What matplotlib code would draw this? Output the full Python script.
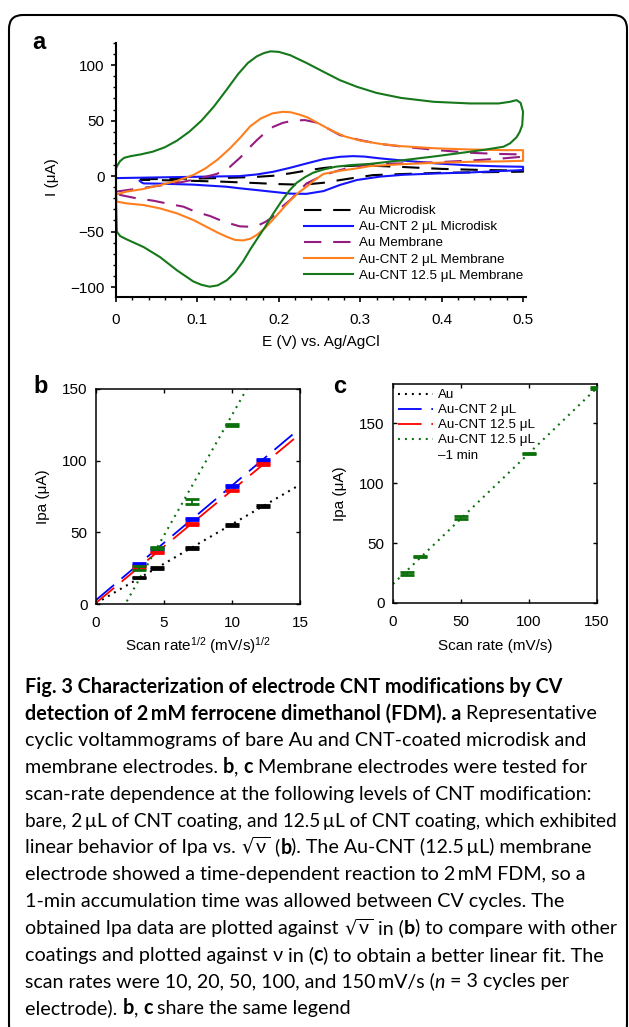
import numpy as np
import matplotlib
matplotlib.use("Agg")
import matplotlib.pyplot as plt
from matplotlib.patches import FancyBboxPatch
from matplotlib.transforms import IdentityTransform
from matplotlib.ticker import MultipleLocator, FixedLocator

plt.rcParams['font.family'] = ['Liberation Sans', 'DejaVu Sans']
plt.rcParams['mathtext.default'] = 'regular'
plt.rcParams['lines.scale_dashes'] = False

# ---------------- panel a: cyclic voltammograms (E in V, I in uA) ----------------
au_md_E = [0.03, 0.06, 0.10, 0.14, 0.17, 0.193, 0.214, 0.234, 0.255, 0.275, 0.296, 0.316, 0.35, 0.40, 0.45, 0.50,
           0.50, 0.45, 0.40, 0.35, 0.316, 0.296, 0.275, 0.255, 0.235, 0.220, 0.20, 0.17, 0.13, 0.09, 0.05, 0.03]
au_md_I = [-2.8, -2.6, -2.2, -1.5, -0.8, 0.3, 2.5, 5.0, 7.3, 8.8, 9.5, 9.3, 8.3, 6.5, 5.5, 5.0,
           4.0, 3.5, 3.0, 1.8, 0.9, -1.2, -3.6, -6.0, -7.4, -7.6, -7.2, -6.2, -5.0, -4.2, -3.6, -3.2]

cnt2_md_E = [0.0, 0.05, 0.10, 0.152, 0.173, 0.193, 0.214, 0.234, 0.255, 0.275, 0.291, 0.305, 0.324, 0.353, 0.394, 0.435, 0.470, 0.500,
             0.500, 0.470, 0.435, 0.394, 0.353, 0.324, 0.296, 0.275, 0.255, 0.234, 0.214, 0.193, 0.173, 0.152, 0.136, 0.095, 0.054, 0.034, 0.031, 0.029]
cnt2_md_I = [-1.8, -1.2, -0.6, 0.0, 1.5, 3.9, 7.5, 11.4, 15.3, 17.4, 18.0, 17.6, 16.0, 14.0, 11.4, 9.6, 8.8, 8.4,
             5.4, 4.5, 3.3, 2.4, 1.2, -0.5, -3.5, -8.0, -13.5, -16.0, -15.8, -14.2, -12.6, -11.0, -9.6, -7.7, -6.8, -6.6, -5.5, -4.2]

au_mem_E = [0.0, 0.02, 0.05, 0.08, 0.100, 0.124, 0.140, 0.153, 0.163, 0.173, 0.183, 0.193, 0.205, 0.217, 0.232, 0.245, 0.255, 0.275, 0.300, 0.324, 0.353, 0.394, 0.435, 0.470, 0.500,
            0.500, 0.476, 0.435, 0.394, 0.353, 0.324, 0.296, 0.275, 0.255, 0.234, 0.214, 0.200, 0.193, 0.183, 0.173, 0.163, 0.152, 0.132, 0.1155, 0.097, 0.083, 0.062, 0.046, 0.025, 0.005, 0.0]
au_mem_I = [-14, -12, -9, -5.5, -2.5, 2, 8.4, 17, 25, 32.4, 39, 44.4, 48, 50, 50.5, 48.5, 45, 37, 32.4, 29, 26.5, 23.5, 21, 20, 19.5,
            17.5, 16, 14, 12.5, 11.5, 11, 9, 5.4, 0.9, -6.6, -21.6, -30, -36.7, -41.5, -45, -45.6, -45.3, -41, -36, -32, -27.6, -24.6, -22.2, -20, -17, -14]

cnt2_mem_E = [0.0, 0.013, 0.033, 0.054, 0.075, 0.095, 0.110, 0.125, 0.140, 0.153, 0.165, 0.178, 0.192, 0.205, 0.215, 0.225, 0.235, 0.250, 0.265, 0.280, 0.300, 0.325, 0.350, 0.394, 0.435, 0.476, 0.500,
              0.500, 0.476, 0.435, 0.394, 0.353, 0.312, 0.296, 0.275, 0.255, 0.245, 0.234, 0.224, 0.214, 0.204, 0.193, 0.183, 0.173, 0.165, 0.156, 0.146, 0.136, 0.125, 0.115, 0.095, 0.075, 0.054, 0.034, 0.013, 0.001, 0.0]
cnt2_mem_I = [-16.5, -14, -11.7, -8.1, -4.2, 1, 7, 15, 25, 35, 45, 52, 56.5, 58, 57.5, 55.5, 53, 47, 41, 36, 32, 29, 27, 25, 24, 23.4, 23.4,
              13.8, 13.3, 12.9, 12, 10.8, 9, 7, 4.8, 2, -3, -9.6, -15, -22, -30, -39, -47, -53, -56.5, -58, -57.5, -54.7, -51, -47.2, -39.6, -33.6, -29.1, -26.1, -24.6, -23, -16.5]

cnt125_mem_E = [0.0, 0.002, 0.005, 0.010, 0.018, 0.030, 0.045, 0.060, 0.075, 0.090, 0.105, 0.120, 0.135, 0.150, 0.162, 0.173, 0.182, 0.190, 0.200, 0.214, 0.234, 0.255, 0.275, 0.296, 0.320, 0.350, 0.390, 0.435, 0.470, 0.484, 0.492, 0.497, 0.500,
                0.499, 0.496, 0.492, 0.484, 0.476, 0.455, 0.435, 0.394, 0.353, 0.312, 0.290, 0.270, 0.255, 0.242, 0.232, 0.222, 0.213, 0.203, 0.193, 0.183, 0.173, 0.165, 0.156, 0.146, 0.136, 0.125, 0.115, 0.105, 0.095, 0.075, 0.054, 0.034, 0.013, 0.005, 0.001, 0.0, 0.0]
cnt125_mem_I = [7, 10, 13.5, 16.5, 18, 19.5, 22, 26, 32, 40, 50, 62.5, 77, 92, 102, 108, 111, 112.5, 112, 109, 102, 94, 86.5, 80.5, 75, 70.5, 67, 65.5, 65.5, 67, 68.5, 66, 58,
                46, 40, 35, 29.5, 26.5, 24, 22, 18, 14.4, 11, 10, 8.5, 6, 3, -1, -6, -13, -23, -34, -46, -57, -66, -77, -87, -94, -98.5, -99.7, -98, -95, -85, -73, -64, -57, -54, -50, -20, 7]

cv_labels = ['Au Microdisk', 'Au-CNT 2 \u03bcL Microdisk', 'Au Membrane',
             'Au-CNT 2 \u03bcL Membrane', 'Au-CNT 12.5 \u03bcL Membrane']
cv_colors = ['#000000', '#1414FF', '#941C80', '#FF7F1E', '#16781A']

# ---------------- panels b, c: peak current vs scan rate ----------------
scan_rate = np.array([10, 20, 50, 100, 150])          # mV/s
ipa_au = [18.5, 25, 39, 55.3, 68.6]
ipa_au_err = [0.6, 0.5, 0.6, 0.6, 0.6]
ipa_cnt2 = [28, 38.5, 59.3, 82.5, 100.7]
ipa_cnt2_err = [0.8, 0.6, 0.8, 0.6, 0.8]
ipa_cnt125 = [26, 36, 55.8, 79, 97.5]
ipa_cnt125_err = [0.6, 0.5, 0.6, 0.5, 0.6]
ipa_cnt125_1min = [25, 39, 71.5, 125, 179.5]
ipa_cnt125_1min_err = [1.2, 0.6, 1.5, 0.6, 0.6]

bc_labels = ['Au', 'Au-CNT 2 \u03bcL', 'Au-CNT 12.5 \u03bcL', 'Au-CNT 12.5 \u03bcL']
bc_colors = ['#000000', '#0000FF', '#FF0000', '#0A700A']

# ---------------- figure ----------------
W, H, DPI = 629, 1027, 100
fig = plt.figure(figsize=(W / DPI, H / DPI), dpi=DPI)


def box(l, t, r, b):
    return [l / W, 1 - b / H, (r - l) / W, (b - t) / H]


# outer rounded frame (pixel coordinates)
frame = FancyBboxPatch((9, -12), 618, 1012 + 12, boxstyle='round,pad=0,rounding_size=14',
                       transform=IdentityTransform(), fill=False, ec='black', lw=1.5)
fig.add_artist(frame)

# ---------- panel a ----------
axA = fig.add_axes(box(116, 43, 526.3, 297))
cv_data = [(au_md_E, au_md_I), (cnt2_md_E, cnt2_md_I), (au_mem_E, au_mem_I),
           (cnt2_mem_E, cnt2_mem_I), (cnt125_mem_E, cnt125_mem_I)]
styles = ['dash', 'solid', 'dash', 'solid', 'solid']
for (E, I), lab, col, st in zip(cv_data, cv_labels, cv_colors, styles):
    ln, = axA.plot(E, I, color=col, lw=1.5, label=lab, clip_on=False, solid_joinstyle='round')
    if st == 'dash':
        ln.set_dashes((12.5, 8.5))
axA.set_xlim(0, 0.504)
axA.set_ylim(-109, 120)
axA.spines[['top', 'right']].set_visible(False)
for s in ['left', 'bottom']:
    axA.spines[s].set_linewidth(1.5)
axA.xaxis.set_major_locator(FixedLocator([0, 0.1, 0.2, 0.3, 0.4, 0.5]))
axA.set_xticklabels(['0', '0.1', '0.2', '0.3', '0.4', '0.5'])
axA.xaxis.set_minor_locator(MultipleLocator(0.02))
axA.yaxis.set_major_locator(MultipleLocator(50))
axA.yaxis.set_minor_locator(MultipleLocator(10))
axA.tick_params(which='major', direction='out', length=3.8, width=1.2, labelsize=11, pad=4.5)
axA.tick_params(axis='x', which='major', pad=7.5)
axA.tick_params(which='minor', direction='out', length=2.3, width=1.0)
axA.set_xlabel('E (V) vs. Ag/AgCl', fontsize=11, va='center')
axA.xaxis.set_label_coords(0.5, (297 - 341.7) / 254)
axA.set_ylabel('I (\u03bcA)', fontsize=11, va='center')
axA.yaxis.set_label_coords((52 - 116) / 410.3, (297 - 177) / 254)
axA.legend(loc='upper left', bbox_to_anchor=((304 - 116) / 410.3, (297 - 205) / 254),
           frameon=False, fontsize=9.6, handlelength=3.7, handletextpad=0.45,
           labelspacing=0.28, borderpad=0, borderaxespad=0)

# ---------- panels b and c ----------
sq = np.sqrt(scan_rate)
series = [(ipa_au, ipa_au_err), (ipa_cnt2, ipa_cnt2_err), (ipa_cnt125, ipa_cnt125_err),
          (ipa_cnt125_1min, ipa_cnt125_1min_err)]
line_styles = [(0, (1.4, 3.6)), (0, (17, 7)), (0, (17, 7)), (0, (1.4, 3.6))]
line_widths = [1.5, 1.3, 1.3, 1.5]

axB = fig.add_axes(box(96, 389, 300, 604))
xfit_b = np.array([0.0, 15.0])
for (y, e), col, ls, lw in zip(series, bc_colors, line_styles, line_widths):
    k, b0 = np.polyfit(sq, y, 1)
    axB.plot(xfit_b, k * xfit_b + b0, color=col, ls=ls, lw=lw, zorder=2)
    axB.errorbar(sq, y, yerr=e, fmt='none', ecolor=col, elinewidth=1.3, capsize=4.7, capthick=2.0, zorder=3)
axB.set_xlim(0, 15)
axB.set_ylim(0, 150)
axB.set_xticks([0, 5, 10, 15])
axB.set_yticks([0, 50, 100, 150])
axB.set_xlabel('Scan rate$^{1/2}$ (mV/s)$^{1/2}$', fontsize=11, va='center')
axB.xaxis.set_label_coords(0.5, (604 - 645.7) / 215)
axB.set_ylabel('Ipa (\u03bcA)', fontsize=11, va='center')
axB.yaxis.set_label_coords((43 - 96) / 204, 0.5)

axC = fig.add_axes(box(393, 384, 597, 603))
xfit_c = np.array([0.0, 150.0])
handles = []
for i, ((y, e), col, ls, lw, lab) in enumerate(zip(series, bc_colors, line_styles, line_widths, bc_labels)):
    if i == 3:
        k, b0 = np.polyfit(scan_rate, y, 1)
        h, = axC.plot(xfit_c, k * xfit_c + b0, color=col, ls=ls, lw=lw, zorder=2)
        axC.errorbar(scan_rate, y, yerr=e, fmt='none', ecolor=col, elinewidth=1.3, capsize=4.7, capthick=2.0, zorder=3)
    else:
        h, = axC.plot([], [], color=col, ls=ls, lw=lw)
    handles.append(h)
axC.set_xlim(0, 150)
axC.set_ylim(0, 183)
axC.set_xticks([0, 50, 100, 150])
axC.set_yticks([0, 50, 100, 150])
axC.set_xlabel('Scan rate (mV/s)', fontsize=11, va='center')
axC.xaxis.set_label_coords(0.5, (603 - 645.7) / 219)
axC.set_ylabel('Ipa (\u03bcA)', fontsize=11, va='center')
axC.yaxis.set_label_coords((340 - 393) / 204, 0.5)
axC.legend(handles, bc_labels, loc='upper left', bbox_to_anchor=((398 - 393) / 204, (603 - 389) / 219),
           frameon=False, fontsize=9.6, handlelength=2.6, handletextpad=0.4,
           labelspacing=0.2, borderpad=0, borderaxespad=0)
fig.text(438 / W, 1 - 456 / H, '\u20131 min', fontsize=9.6, va='center', ha='left')

for ax in (axB, axC):
    for s in ax.spines.values():
        s.set_linewidth(1.1)
    ax.tick_params(direction='in', top=True, right=True, length=3.2, width=1.0, labelsize=11)
    ax.tick_params(axis='x', pad=8.5)
    ax.tick_params(axis='y', pad=6.2)

# panel letters
fig.text(32 / W, 1 - 49.3 / H, 'a', fontsize=17, fontweight='bold', va='baseline', ha='left')
fig.text(33.3 / W, 1 - 393.3 / H, 'b', fontsize=17, fontweight='bold', va='baseline', ha='left')
fig.text(332.7 / W, 1 - 393.3 / H, 'c', fontsize=17, fontweight='bold', va='baseline', ha='left')

# ---------- caption ----------
CAP_FAM = ['Lato', 'DejaVu Sans']
renderer = fig.canvas.get_renderer()


def text_w(s, size, weight='normal', style='normal'):
    t = fig.text(0, 0, s, fontsize=size, fontweight=weight, fontstyle=style, family=CAP_FAM)
    w = t.get_window_extent(renderer=renderer).width
    t.remove()
    return w


def seg_w(s, size, weight='normal', style='normal'):
    return text_w('x' + s + 'x', size, weight, style) - text_w('xx', size, weight, style)


N, B, IT = 'normal', 'bold', 'italic'
cap_lines = [
    [("Fig. 3 Characterization of electrode CNT modifications by CV", B)],
    [("detection of 2\u2009mM ferrocene dimethanol (FDM). a", B), (" Representative", N)],
    [("cyclic voltammograms of bare Au and CNT-coated microdisk and", N)],
    [("membrane electrodes. ", N), ("b", B), (", ", N), ("c", B), (" Membrane electrodes were tested for", N)],
    [("scan-rate dependence at the following levels of CNT modification:", N)],
    [("bare, 2\u2009\u00b5L of CNT coating, and 12.5\u2009\u00b5L of CNT coating, which exhibited", N)],
    [("linear behavior of Ipa vs. ", N), (r"$\sqrt{\nu}$", N), (" (", N), ("b", B), ("). The Au-CNT (12.5\u2009\u00b5L) membrane", N)],
    [("electrode showed a time-dependent reaction to 2\u2009mM FDM, so a", N)],
    [("1-min accumulation time was allowed between CV cycles. The", N)],
    [("obtained Ipa data are plotted against ", N), (r"$\sqrt{\nu}$", N), (" in (", N), ("b", B), (") to compare with other", N)],
    [("coatings and plotted against ", N), ("\u03bd", N), (" in (", N), ("c", B), (") to obtain a better linear fit. The", N)],
    [("scan rates were 10, 20, 50, 100, and 150\u2009mV/s (", N), ("n", IT), (" = 3 cycles per", N)],
    [("electrode). ", N), ("b", B), (", ", N), ("c", B), (" share the same legend", N)],
]
# right edge (px) of each caption line in the reference column
cap_right = [590, 616, 588, 588, 592, 617, 592, 588, 564, 617, 617, 568, 357]


def style_of(kind):
    if kind == B:
        return 'bold', 'normal'
    if kind == IT:
        return 'normal', 'italic'
    return 'normal', 'normal'


x0, base0, lead = 25, 692.7, 26.8
for li, segs in enumerate(cap_lines):
    w10 = sum(seg_w(s, 10, *style_of(k)) for s, k in segs)
    size = 10 * (cap_right[li] - x0) / w10
    size = min(max(size, 12.0), 14.2)
    x = x0
    yb = 1 - (base0 + li * lead) / H
    for s, kind in segs:
        wt, st = style_of(kind)
        fig.text(x / W, yb, s, fontsize=size, fontweight=wt, fontstyle=st, family=CAP_FAM,
                 va='baseline', ha='left')
        x += seg_w(s, size, wt, st)

fig.savefig('out.png', dpi=DPI)
